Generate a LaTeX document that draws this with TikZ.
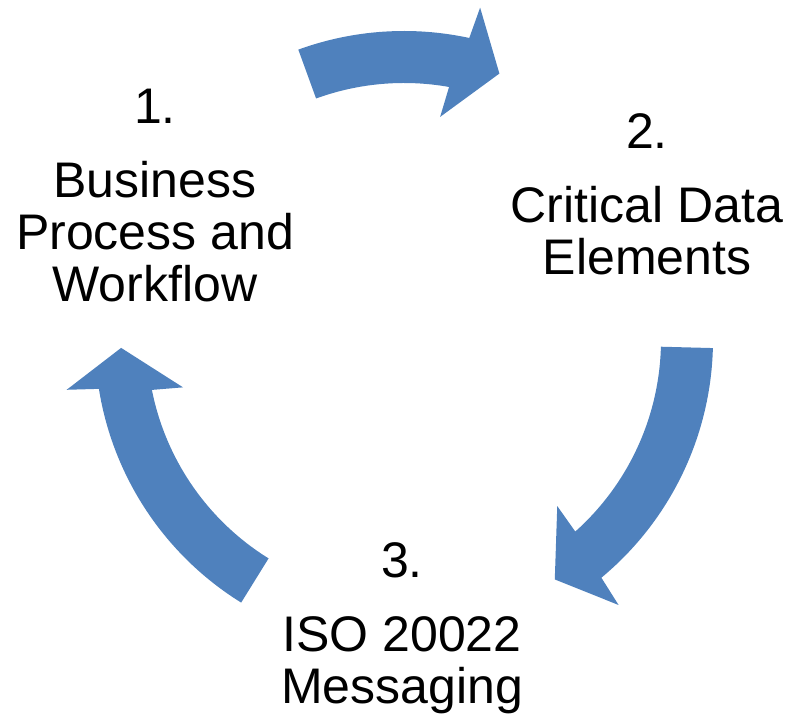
\documentclass[tikz,border=0pt]{standalone}
\usepackage{fontspec}
\setmainfont{Liberation Sans}
\usepackage{xcolor}
\usepackage{tikz}

\definecolor{cycleblue}{RGB}{79,129,189}

\begin{document}
\begin{tikzpicture}[x=0.5pt, y=0.5pt,
  cycletext/.style={align=center, anchor=base, inner sep=0pt, font=\fontsize{25}{26}\selectfont}]

\useasboundingbox (0,0) rectangle (794,716);

% three curved arrows round one centre
\begin{scope}[shift={(404,376)}]
\foreach \tail/\tip in {110/70.3, -1.5/-57.8, 238.2/181.6}
  \fill[cycleblue] (\tail:309) arc[start angle=\tail, end angle=\tip+7.5, radius=309]
    -- (\tip+6.8:341) -- (\tip:283) -- (\tip+10.5:226) -- (\tip+9.6:257)
    arc[start angle=\tip+9.6, end angle=\tail, radius=257] -- cycle;
\end{scope}

% base = last line of each text
\node[cycletext] (process) at (155,414) {1.\\[11pt]Business\\Process and\\Workflow};
\node[cycletext] (elements) at (647,441) {2.\\[11pt]Critical Data\\Elements};
\node[cycletext] (messaging) at (402,12) {3.\\[11pt]ISO 20022\\Messaging};

\end{tikzpicture}
\end{document}
